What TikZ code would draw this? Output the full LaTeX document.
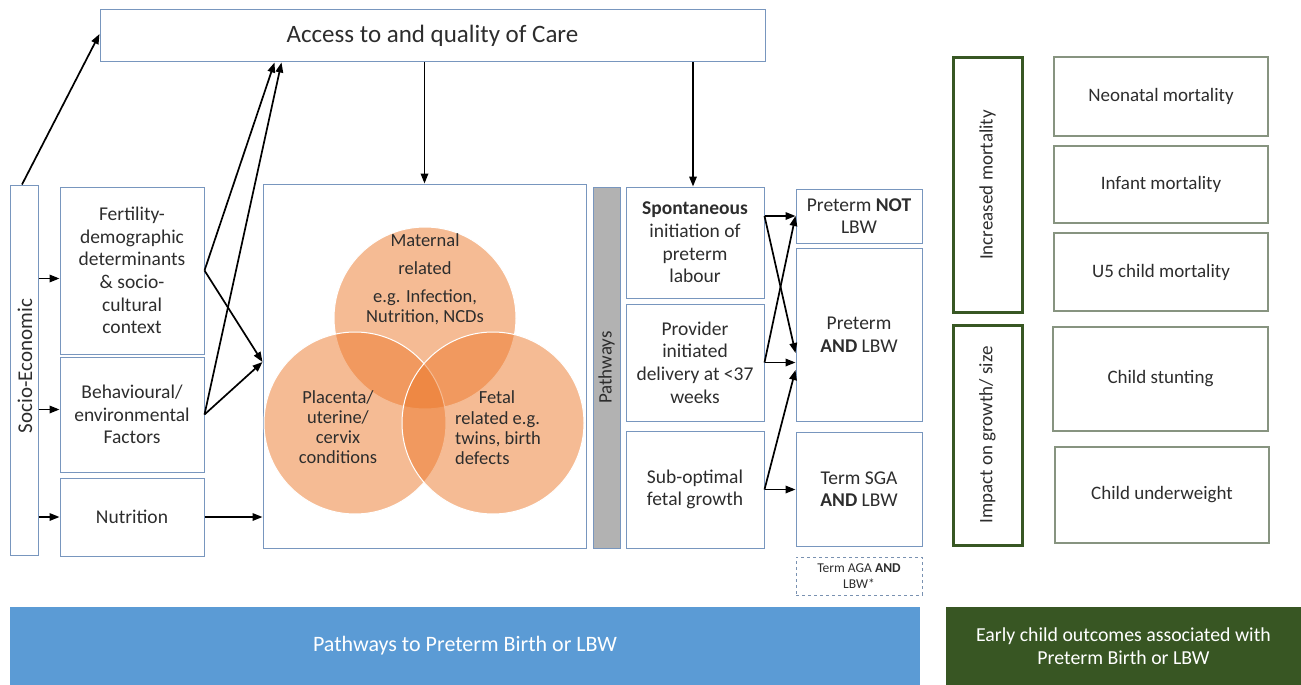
\documentclass[tikz,border=0pt]{standalone}
\usepackage{fontspec}
\setmainfont{Carlito}
\usetikzlibrary{arrows.meta,calc}
\definecolor{ink}{RGB}{45,45,45}
\definecolor{boxblue}{RGB}{120,150,190}
\definecolor{boxgreen}{RGB}{135,148,128}
\definecolor{darkgreen}{RGB}{56,87,35}
\definecolor{bannerblue}{RGB}{91,155,213}
\definecolor{bannergreen}{RGB}{56,86,35}
\definecolor{barGrey}{RGB}{178,178,178}
\definecolor{vennorange}{RGB}{236,120,42}
\begin{document}
\begin{tikzpicture}[x=1pt,y=-1pt,
  txt/.style={font=\fontsize{19.5}{22.6}\selectfont, text=ink},
  box/.style={draw=boxblue, line width=1pt, rectangle, inner sep=0pt, align=center, txt},
  outbox/.style={draw=boxgreen, line width=1.1pt, rectangle, inner sep=0pt, align=center,
                 font=\fontsize{19}{22}\selectfont, text=ink},
  groupbox/.style={draw=darkgreen, line width=3pt, rectangle, inner sep=0pt},
  grouplabel/.style={rotate=90, font=\fontsize{19}{22}\selectfont, text=ink},
  venn/.style={circle, inner sep=0pt, minimum size=182pt, fill=vennorange, fill opacity=0.5,
               draw=white, line width=1pt},
  venntext/.style={font=\fontsize{18.5}{20}\selectfont, text=ink, align=center, inner sep=0pt},
  arr/.style={-{Triangle[length=10pt,width=7.5pt]}, line width=1.7pt, black},
  banner/.style={rectangle, inner sep=0pt, align=center, text=white}]
\useasboundingbox (0,0) rectangle (1301,685);

% top row
\node[box, minimum width=665pt, minimum height=52pt, font=\fontsize{25}{29}\selectfont] (access) at (432.5,36) {Access to and quality of Care};

% left column of determinants
\node[box, minimum width=28pt, minimum height=370pt] (socio) at (24,370) {};
\node[rotate=90, txt, font=\fontsize{21}{24}\selectfont, inner sep=0pt] (sociotext) at (25,366) {Socio-Economic};
\node[box, minimum width=144pt, minimum height=167pt] (fert) at (132,270.5)
  {Fertility-\\demographic\\determinants\\\& socio-\\cultural\\context};
\node[box, minimum width=144pt, minimum height=115pt] (behav) at (132,414.5)
  {Behavioural/\\environmental\\Factors};
\node[box, minimum width=144pt, minimum height=78pt] (nutr) at (132,517) {Nutrition};

% central box with the three overlapping circles
\node[box, minimum width=323pt, minimum height=364pt] (mid) at (424.5,366) {};
\node[venn] (cmat) at (425,318) {};
\node[venn] (cpla) at (355,423) {};
\node[venn] (cfet) at (493,423) {};
\node[venntext] (tmat) at (425,279) {Maternal\\[8pt]related\\[8pt]e.g. Infection,\\Nutrition, NCDs};
\node[venntext] (tpla) at (338,427) {Placenta/\\uterine/\\cervix\\conditions};
\node[venntext] (tfet) at (497,397) {Fetal};
\node[venntext, align=left, anchor=west] (tfetb) at (455,438) {related e.g.\\twins, birth\\defects};

% pathways bar
\node[draw=boxblue, fill=barGrey, line width=1pt, inner sep=0pt,
      minimum width=27pt, minimum height=361pt,
      label={[rotate=90, font=\fontsize{19}{22}\selectfont, text=ink]center:Pathways}] (pbar) at (606.5,367.5) {};

% pathway boxes
\node[box, minimum width=138pt, minimum height=111pt] (spont) at (695,242.5)
  {\textbf{Spontaneous}\\initiation of\\preterm\\labour};
\node[box, minimum width=138pt, minimum height=117pt] (prov) at (695,362.5)
  {Provider\\initiated\\delivery at <37\\weeks};
\node[box, minimum width=138pt, minimum height=117pt] (subopt) at (695,489.5)
  {Sub-optimal\\fetal growth};

% birth outcome boxes
\node[box, minimum width=126pt, minimum height=54pt] (pnot) at (859,216) {Preterm \textbf{NOT}\\LBW};
\node[box, minimum width=126pt, minimum height=173pt] (pand) at (859,334.5) {Preterm\\\textbf{AND} LBW};
\node[box, minimum width=126pt, minimum height=114pt] (tsga) at (859,489) {Term SGA\\\textbf{AND} LBW};
\node[draw=boxblue!80!gray, dashed, line width=0.8pt, inner sep=0pt, minimum width=126pt, minimum height=38pt,
      align=center, font=\fontsize{13.5}{16}\selectfont, text=ink] (taga) at (859,576) {Term AGA \textbf{AND}\\LBW*};

% child outcome groups
\node[groupbox, minimum width=69pt, minimum height=254pt,
      label={[grouplabel]center:Increased mortality}] (incm) at (987.5,185) {};
\node[groupbox, minimum width=69pt, minimum height=220pt,
      label={[grouplabel]center:Impact on growth/ size}] (impg) at (987.5,435) {};

\node[outbox, minimum width=214pt, minimum height=79pt] (neo) at (1161,96.5) {Neonatal mortality};
\node[outbox, minimum width=214pt, minimum height=77pt] (inf) at (1161,184.5) {Infant mortality};
\node[outbox, minimum width=214pt, minimum height=78pt] (u5) at (1161,272) {U5 child mortality};
\node[outbox, minimum width=215pt, minimum height=104pt] (stunt) at (1160.5,379) {Child stunting};
\node[outbox, minimum width=214pt, minimum height=96pt] (under) at (1162,495) {Child underweight};

% banners
\node[banner, fill=bannerblue, minimum width=910pt, minimum height=78pt,
      font=\fontsize{22}{26}\selectfont] (bblue) at (465,646) {Pathways to Preterm Birth or LBW};
\node[banner, fill=bannergreen, minimum width=355pt, minimum height=78pt,
      font=\fontsize{19.8}{23}\selectfont] (bgreen) at (1123.5,646) {Early child outcomes associated with\\Preterm Birth or LBW};

% arrow end points on box sides
\coordinate (fertin) at ([yshift=-8pt]fert.west);
\coordinate (behavin) at ([yshift=5pt]behav.west);
\coordinate (accfert) at ([xshift=175pt]access.south west);
\coordinate (accbehav) at ([xshift=182pt]access.south west);
\coordinate (midin) at ([yshift=4pt]mid.west);
\coordinate (spontout) at (spont.east |- pnot.west);
\coordinate (pandhi) at ([yshift=-18.5pt]pand.west);
\coordinate (pandlo) at ([yshift=-35.5pt]pand.west);
\coordinate (spontin) at ([xshift=-2pt]spont.north);
\coordinate (socioTop) at ([xshift=-2pt]socio.north);

% connectors
\draw[arr] (socioTop) -- ([yshift=2pt]access.west);
\draw[arr] (socio.east |- fertin) -- (fertin);
\draw[arr] (socio.east |- behavin) -- (behavin);
\draw[arr] (socio.east |- nutr.west) -- (nutr.west);

\draw[arr] (fert.east) -- (accfert);
\draw[arr] (behav.east) -- (accbehav);
\draw[arr] (fert.east) -- (midin);
\draw[arr] (behav.east) -- (midin);
\draw[arr] (nutr.east) -- (nutr.east -| mid.west);

\draw[arr] (access.south -| mid.north) -- (mid.north);
\draw[arr] (access.south -| spontin) -- (spontin);

\draw[arr] (spontout) -- (pnot.west);
\draw[arr] (spontout) -- (pandhi);
\draw[arr] (prov.east) -- (prov.east -| pand.west);
\draw[arr] (prov.east) -- (pnot.west);
\draw[arr] (subopt.east) -- (subopt.east -| tsga.west);
\draw[arr] (subopt.east) -- (pandlo);
\end{tikzpicture}
\end{document}
